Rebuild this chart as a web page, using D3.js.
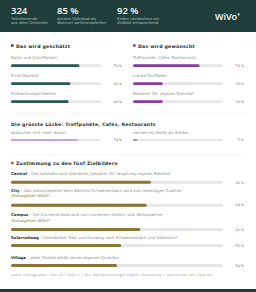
<!DOCTYPE html>
<html><head><meta charset="utf-8">
<script src="https://cdn.jsdelivr.net/npm/d3@7"></script>
<style>
html,body{margin:0;padding:0;background:#fff;}
svg{display:block;font-family:"DejaVu Sans",sans-serif;}
</style></head>
<body>
<script>
// ---- data ----
const statValues = ["324", "85 %", "92 %"];
const statLabels = [
  ["Teilnehmende", "aus allen Ortsteilen"],
  ["würden Volksbad als", "Wohnort weiterempfehlen"],
  ["finden mindestens ein", "Zielbild entsprechend"]
];
const geschaetztLabels = ["Natur und Grünflächen", "Erreichbarkeit", "Einkaufsmöglichkeiten"];
const geschaetztValues = [76, 66, 64];
const gewuenschtLabels = ["Treffpunkte, Cafés, Restaurants", "Lokale Dorfläden", "Besserer ÖV, eigener Bahnhof"];
const gewuenschtValues = [74, 33, 33];
const gapLabels = ["wünschen sich mehr davon", "nennen es heute als Stärke"];
const gapValues = [74, 5];
const zielNames = ["Central", "City", "Campus", "Solarradweg", "Village"];
const zielTexts = [
  "Die Autobahn wird überdeckt, besserer ÖV, langfristig eigener Bahnhof",
  "Das Industriegebiet beim Bahnhof Schwerzenbach wird zum lebendigen Quartier",
  "Die Zürcherstrasse wird zum modernen Arbeits- und Wohnquartier",
  "Überdachter Rad- und Fussweg nach Schwerzenbach und Dübendorf",
  "Jeder Ortsteil erhält seinen eigenen Dorfplatz"
];
const zielFokus = [false, true, true, false, false];
const zielValues = [66, 64, 61, 52, 50];
const sourceText = "Quelle: Umfrage WiVo*, 10.6.–23.7.2025, n = 324. Mehrfachnennungen möglich. Zustimmung = «spricht mich sehr / eher an».";

// ---- style ----
const W = 256, H = 292;
const dark = "#1f3d3b", teal = "#2e5855", purple = "#8b3d9d", lightPurple = "#c9a2d3",
      olive = "#8a7636", track = "#e4e7e5", textDark = "#22302f", grey = "#8a8f8e";

const svg = d3.select("body").append("svg").attr("width", W).attr("height", H);

// header
svg.append("rect").attr("x",0).attr("y",0).attr("width",W).attr("height",32).attr("fill",dark);
const statX = [11, 57, 117];
statValues.forEach((v,i)=>{
  svg.append("text").attr("x",statX[i]).attr("y",14).attr("fill","#fff")
    .attr("font-family","'Open Sans',sans-serif")
    .attr("font-size",9.5).attr("font-weight",600).text(v);
  statLabels[i].forEach((l,j)=>{
    svg.append("text").attr("x",statX[i]).attr("y",19.6+j*4.7).attr("fill","#b3c2c0")
      .attr("font-size",3.8).text(l);
  });
});
const logo = svg.append("text").attr("x",215).attr("y",20).attr("fill","#fff")
  .attr("font-size",9).attr("font-weight",600).attr("font-family","'Open Sans',sans-serif");
logo.append("tspan").text("WiVo");
logo.append("tspan").attr("font-size",5).attr("dy",-3.5).text("*");

// bottom band
svg.append("rect").attr("x",0).attr("y",289).attr("width",W).attr("height",3).attr("fill",dark);

function sectionTitle(x, y, color, label){
  svg.append("rect").attr("x",x).attr("y",y-3.3).attr("width",2.6).attr("height",2.6).attr("fill",color);
  svg.append("text").attr("x",x+5).attr("y",y).attr("fill",textDark).attr("font-size",4.7)
    .attr("letter-spacing",0.2).attr("font-weight",700).text(label);
}
function bar(x, y, w, h, value, color, lx){
  const s = d3.scaleLinear().domain([0,100]).range([0,w]);
  svg.append("rect").attr("x",x).attr("y",y-h/2).attr("width",s(100)).attr("height",h).attr("rx",h/2).attr("fill",track);
  svg.append("rect").attr("x",x).attr("y",y-h/2).attr("width",s(value)).attr("height",h).attr("rx",h/2).attr("fill",color);
  svg.append("text").attr("x",lx).attr("y",y+1.2).attr("text-anchor","end").attr("fill","#55605e").attr("font-size",3.3)
    .text(value + " %");
}

// panels
function panel(x0, title, color, labels, values){
  sectionTitle(x0, 47.5, color, title);
  labels.forEach((l,i)=>{
    const y = 58.9 + i*18;
    svg.append("text").attr("x",x0).attr("y",y).attr("fill",grey).attr("font-size",4.0).text(l);
    bar(x0, y+6.8, 90, 2.8, values[i], color, x0+111);
  });
}
panel(11, "Das wird geschätzt", teal, geschaetztLabels, geschaetztValues);
panel(133, "Das wird gewünscht", purple, gewuenschtLabels, gewuenschtValues);

// divider
svg.append("line").attr("x1",11).attr("x2",245).attr("y1",113.3).attr("y2",113.3).attr("stroke","#eceeed").attr("stroke-width",0.6);

// gap
svg.append("text").attr("x",11).attr("y",125.8).attr("fill",textDark).attr("font-size",4.6).attr("letter-spacing",0.25).attr("font-weight",700)
  .text("Die grösste Lücke: Treffpunkte, Cafés, Restaurants");
svg.append("text").attr("x",11).attr("y",133.5).attr("fill",grey).attr("font-size",4.0).text(gapLabels[0]);
bar(11, 140, 90, 2.2, gapValues[0], lightPurple, 122);
svg.append("text").attr("x",133).attr("y",133.5).attr("fill",grey).attr("font-size",4.0).text(gapLabels[1]);
bar(133, 140, 90, 2.2, gapValues[1], "#9aa09e", 244);

svg.append("line").attr("x1",11).attr("x2",245).attr("y1",155).attr("y2",155).attr("stroke","#eceeed").attr("stroke-width",0.6);

// Zielbilder
sectionTitle(11, 165, olive, "Zustimmung zu den fünf Zielbildern");
const zielY = [175.3, 192, 216.2, 238.5, 258.5];
zielNames.forEach((n,i)=>{
  const y = zielY[i];
  const t = svg.append("text").attr("x",11).attr("y",y).attr("font-size",3.9);
  t.append("tspan").attr("fill",textDark).attr("font-weight",700).text(n);
  t.append("tspan").attr("fill",grey).text(" – " + zielTexts[i]);
  let by = y + 7;
  if (zielFokus[i]) {
    svg.append("text").attr("x",11).attr("y",y+5.4).attr("font-size",3.9).attr("fill",olive).text("(Fokusgebiet WiVo*)");
    by = y + 13.2;
  }
  bar(11, by, 212, 3, zielValues[i], olive, 244);
});

svg.append("text").attr("x",11).attr("y",276.3).attr("fill","#9aa09e").attr("font-size",3.2).text(sourceText);
</script>
</body></html>
